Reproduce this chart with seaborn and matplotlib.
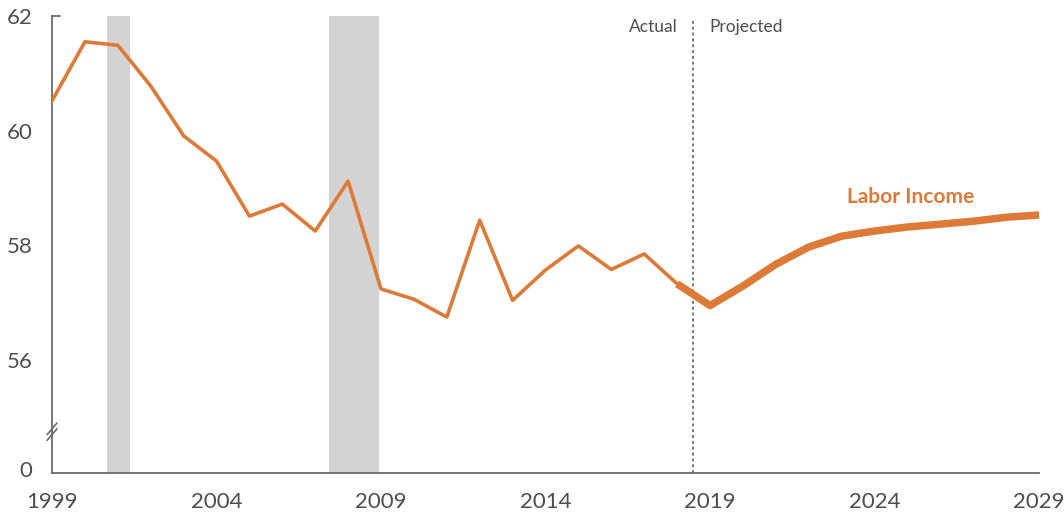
import matplotlib
matplotlib.use("Agg")
import matplotlib.pyplot as plt
import matplotlib.transforms as mtransforms
import seaborn as sns
import pandas as pd

# ---- data ----
actual_years = list(range(1999, 2019))
actual_values = [60.52, 61.55, 61.49, 60.78, 59.91, 59.47, 58.51, 58.72, 58.25, 59.12,
                 57.24, 57.06, 56.75, 58.44, 57.04, 57.57, 57.99, 57.58, 57.85, 57.33]
proj_years = list(range(2018, 2030))
proj_values = [57.33, 56.95, 57.29, 57.67, 57.97, 58.16, 58.25, 58.32, 58.37, 58.42, 58.49, 58.53]
recessions = [(2000.67, 2001.37), (2007.42, 2008.94)]
x_ticks = [1999, 2004, 2009, 2014, 2019, 2024, 2029]
y_ticks = [54.1, 56, 58, 60, 62]
y_tick_labels = ["0", "56", "58", "60", "62"]
split_year = 2018.48
series_label = "Labor Income"

sns.set_style("white")
plt.rcParams['font.family'] = ['Lato', 'DejaVu Sans']

ORANGE = "#DD7A38"
GRAY_TXT = "#4d4d4d"
AXIS = "#6b6b6b"

fig = plt.figure(figsize=(10.64, 5.14), dpi=100)
ax = fig.add_axes([52/1064, 1-473/514, (1039-52)/1064, (473-16)/514])

for a, b in recessions:
    ax.axvspan(a, b, color="#D3D3D3", lw=0, zorder=0)

df_a = pd.DataFrame({"year": actual_years, "value": actual_values})
df_p = pd.DataFrame({"year": proj_years, "value": proj_values})
sns.lineplot(data=df_a, x="year", y="value", ax=ax, color=ORANGE, lw=2.6, zorder=3)
sns.lineplot(data=df_p, x="year", y="value", ax=ax, color=ORANGE, lw=5.4, zorder=4,
             solid_capstyle="butt")

ax.axvline(split_year, color="#777777", lw=1.4, ls=(0, (1.5, 1.5)), zorder=2, ymax=0.995)
ax.text(split_year - 0.45, 61.8, "Actual", ha="right", va="center", fontsize=12.5, color=GRAY_TXT)
ax.text(split_year + 0.5, 61.8, "Projected", ha="left", va="center", fontsize=12.5, color=GRAY_TXT)
ax.text(2025.1, 58.85, series_label, ha="center", va="center", fontsize=15, fontweight="bold",
        color=ORANGE)

ax.set_xlim(1999, 2029)
ax.set_ylim(54.03, 62)
ax.set_xticks(x_ticks)
ax.set_yticks(y_ticks)
ax.set_yticklabels(y_tick_labels)
ax.set_xlabel("")
ax.set_ylabel("")

for s in ["top", "right"]:
    ax.spines[s].set_visible(False)
for s in ["left", "bottom"]:
    ax.spines[s].set_color(AXIS)
    ax.spines[s].set_linewidth(1.3)

ax.tick_params(axis="x", direction="in", length=7, width=1.2, color=AXIS,
               labelsize=16, labelcolor=GRAY_TXT, pad=14)
ax.tick_params(axis="y", length=0, labelsize=16, labelcolor=GRAY_TXT, pad=14)

# small inward cap at top of y axis
ax.plot([1999, 1999.25], [62, 62], color=AXIS, lw=1.3, clip_on=False, zorder=5)

# axis break marks
trans = mtransforms.blended_transform_factory(ax.transAxes, ax.transData)
for dy in (-0.05, 0.05):
    ax.plot([-0.005, 0.005], [54.65 + dy, 54.85 + dy], transform=trans, color=AXIS,
            lw=1.2, clip_on=False, zorder=5)

fig.savefig("out.png", dpi=100)
